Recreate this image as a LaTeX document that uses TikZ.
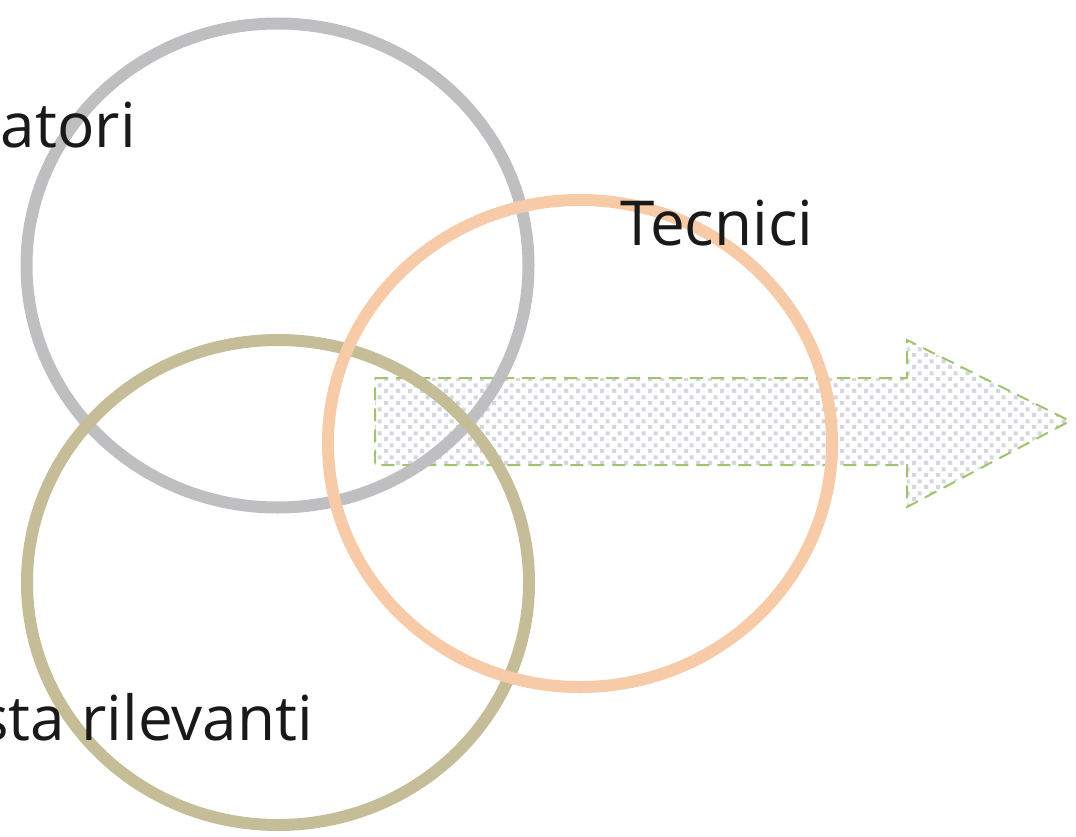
\documentclass[tikz,border=0pt]{standalone}
\usepackage{fontspec}
\setmainfont{Open Sans}
\usetikzlibrary{patterns}
\definecolor{ringgray}{RGB}{191,191,193}
\definecolor{ringtan}{RGB}{196,189,151}
\definecolor{ringpeach}{RGB}{248,203,168}
\definecolor{arrowline}{RGB}{160,196,110}
\definecolor{checkfill}{RGB}{214,214,224}
% sparse checkerboard used to fill the arrow
\pgfdeclarepatternformonly{checker}{\pgfpointorigin}{\pgfpoint{12pt}{12pt}}{\pgfpoint{12pt}{12pt}}{%
  \pgfpathrectangle{\pgfpointorigin}{\pgfpoint{4.5pt}{4.5pt}}%
  \pgfpathrectangle{\pgfpoint{6pt}{6pt}}{\pgfpoint{4.5pt}{4.5pt}}%
  \pgfusepath{fill}}
\tikzset{
  ring/.style={line width=12pt},
  label/.style={font=\fontsize{62}{74}\selectfont, text=black!90, inner sep=0pt},
  bigarrow/.style={draw=arrowline, line width=2pt, dash pattern=on 13pt off 8pt,
    pattern=checker, pattern color=checkfill}
}
\begin{document}
\begin{tikzpicture}[x=1pt,y=-1pt]
\useasboundingbox (0,0) rectangle (1076,837);
% wide arrow pointing right
\draw[bigarrow] (375,378) -- (907,378) -- (907,340) -- (1070,421)
  -- (907,507) -- (907,465) -- (375,465) -- cycle;
% the three overlapping rings
\node[circle, minimum size=0pt] (cg) at (277.5,265.5) {};
\node[circle, minimum size=0pt] (ct) at (278,582.5) {};
\node[circle, minimum size=0pt] (cp) at (580,443.5) {};
\draw[ring, draw=ringgray] (cg) ellipse[x radius=251, y radius=242];
\draw[ring, draw=ringtan] (ct) ellipse[x radius=251, y radius=242.5];
\draw[ring, draw=ringpeach] (cp) ellipse[x radius=252, y radius=243.5];
% labels
\node[label, anchor=base east] (lg) at (136,148) {atori};
\node[label, anchor=base west] (lp) at (620,245) {Tecnici};
\node[label, anchor=base east] (lt) at (313,740) {sta rilevanti};
\end{tikzpicture}
\end{document}
